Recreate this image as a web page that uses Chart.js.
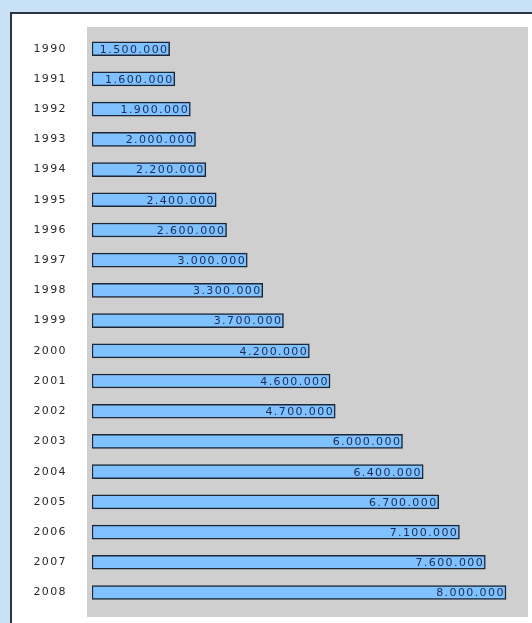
<!DOCTYPE html>
<html>
<head>
<meta charset="utf-8">
<script src="https://cdn.jsdelivr.net/npm/chart.js@4/dist/chart.umd.min.js"></script>
<style>
    html, body { margin: 0; padding: 0; background: #ffffff; }
    #frame { position: absolute; left: 0; top: 0; width: 532px; height: 623px; background: #c9e1f7; overflow: hidden; }
    #inner { position: absolute; left: 10px; top: 12px; width: 522px; height: 611px; background: #ffffff;
             border-left: 2px solid #2b3540; border-top: 2px solid #2b3540; }
    #wrap { position: absolute; left: 1px; top: 0; width: 519px; height: 609px; }
</style>
</head>
<body>
<div id="frame">
    <div id="inner">
        <div id="wrap"><canvas id="yearChart" width="519" height="609"></canvas></div>
    </div>
</div>
<script>
// data
const years = ['1990', '1991', '1992', '1993', '1994', '1995', '1996', '1997', '1998', '1999',
               '2000', '2001', '2002', '2003', '2004', '2005', '2006', '2007', '2008'];
const values = [1500000, 1600000, 1900000, 2000000, 2200000, 2400000, 2600000, 3000000, 3300000, 3700000,
                4200000, 4600000, 4700000, 6000000, 6400000, 6700000, 7100000, 7600000, 8000000];
const xMax = 8425000;

// the reference text looks stretched sideways, a wide font plus a bit of spacing fakes that
const fontFamily = '"DejaVu Sans", Verdana, sans-serif';
const spacing = '1.4px';

function formatNumber(v) {
    return String(v).replace(/\B(?=(\d{3})+(?!\d))/g, '.');
}

// grey panel behind the bars, a bit larger than the chart area
const panelPlugin = {
    id: 'panel',
    beforeDraw(chart) {
        const { ctx, chartArea } = chart;
        ctx.save();
        ctx.fillStyle = '#cfcfcf';
        ctx.fillRect(chartArea.left - 5, chartArea.top - 6.6, chartArea.right - chartArea.left + 5, chartArea.bottom - chartArea.top + 16);
        ctx.restore();
        ctx.letterSpacing = spacing;
    }
};

// value labels inside the bars, right aligned
const valueLabels = {
    id: 'valueLabels',
    afterDatasetsDraw(chart) {
        const { ctx } = chart;
        const meta = chart.getDatasetMeta(0);
        ctx.save();
        ctx.letterSpacing = spacing;
        ctx.font = '11px ' + fontFamily;
        ctx.fillStyle = '#1b2a52';
        ctx.textAlign = 'right';
        ctx.textBaseline = 'middle';
        meta.data.forEach((bar, i) => {
            ctx.fillText(formatNumber(values[i]), bar.x - 1.2, bar.y + 1);
        });
        ctx.restore();
    }
};

new Chart(document.getElementById('yearChart').getContext('2d'), {
    type: 'bar',
    data: {
        labels: years,
        datasets: [{
            data: values,
            backgroundColor: '#80c2ff',
            borderColor: '#1c2636',
            borderWidth: 1.5,
            borderSkipped: false,
            barThickness: 14
        }]
    },
    options: {
        indexAxis: 'y',
        responsive: false,
        animation: false,
        layout: { padding: { top: 19.6, right: 4, bottom: 15.4, left: 0 } },
        plugins: { legend: { display: false }, tooltip: { enabled: false } },
        scales: {
            x: { display: false, min: 0, max: xMax },
            y: {
                grid: { display: false },
                border: { display: false },
                afterFit: s => {
                    s.width = 79;
                    // labels sit on band centres, no extra room needed above/below
                    s.paddingTop = 0;
                    s.paddingBottom = 0;
                },
                ticks: {
                    padding: 17,
                    color: '#2a2a2a',
                    font: { family: fontFamily, size: 11 }
                }
            }
        }
    },
    plugins: [panelPlugin, valueLabels]
});
</script>
</body>
</html>
